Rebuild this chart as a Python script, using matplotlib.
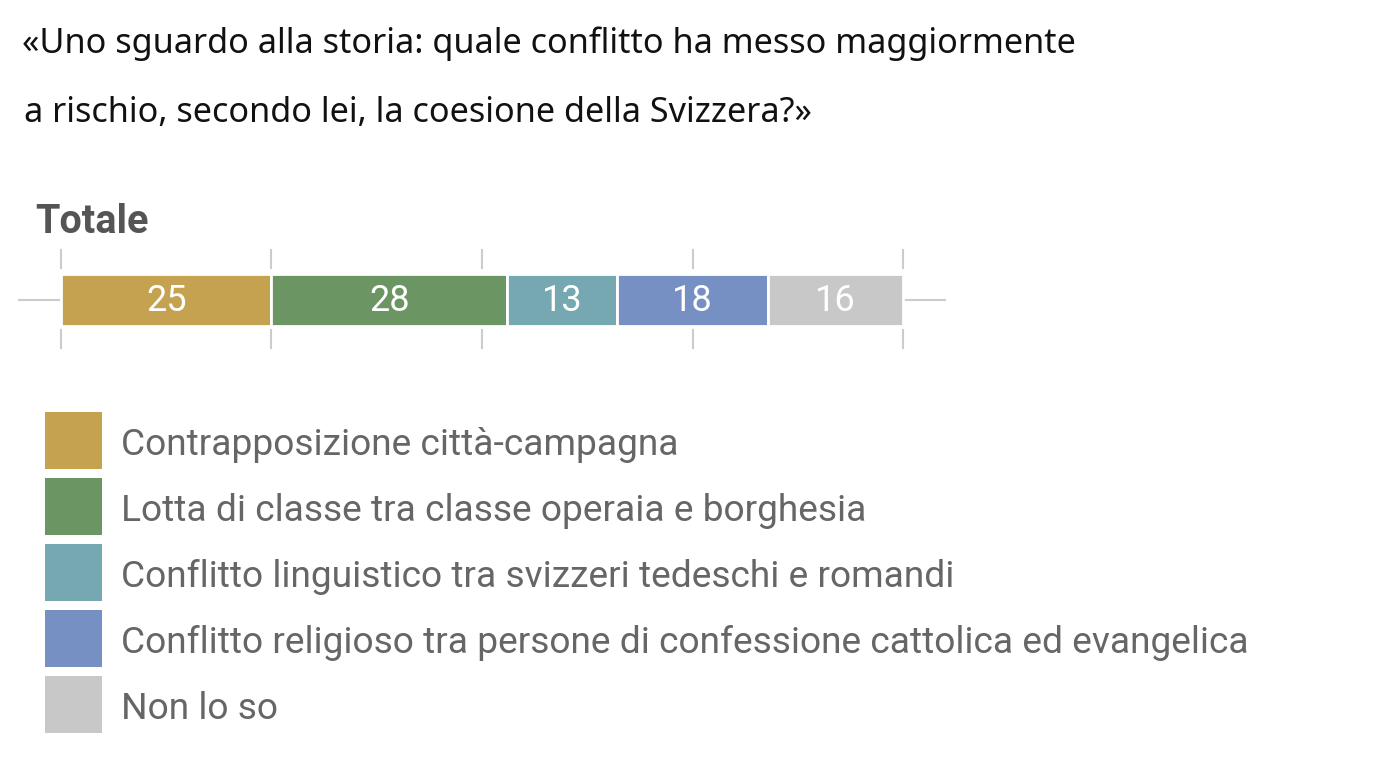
import matplotlib.pyplot as plt
from matplotlib.patches import Rectangle

# Data
categories = [
    "Contrapposizione città-campagna",
    "Lotta di classe tra classe operaia e borghesia",
    "Conflitto linguistico tra svizzeri tedeschi e romandi",
    "Conflitto religioso tra persone di confessione cattolica ed evangelica",
    "Non lo so",
]
values = [25, 28, 13, 18, 16]
colors = ["#c4a24f", "#6b9562", "#76a8b2", "#7790c4", "#c8c8c8"]
row_label = "Totale"
ticks = [0, 25, 50, 75, 100]
title_lines = [
    "«Uno sguardo alla storia: quale conflitto ha messo maggiormente",
    "a rischio, secondo lei, la coesione della Svizzera?»",
]

W, H = 1390, 781
fig = plt.figure(figsize=(W / 100, H / 100), dpi=100)


def fx(px):
    return px / W


def fy(py):
    return 1 - py / H


# Title
fig.text(fx(22), fy(53), title_lines[0], fontsize=24.6, family="Noto Sans",
         color="#111111", va="baseline")
fig.text(fx(24), fy(122), title_lines[1], fontsize=24.6, family="Noto Sans",
         color="#111111", va="baseline")

# Row label
fig.text(fx(35), fy(233), row_label, fontsize=28.5, family="Roboto",
         fontweight="bold", color="#555555", va="baseline")

# Stacked bar
ax = fig.add_axes([fx(18), fy(360), fx(928), 120 / H])
ax.set_xlim(-5.1, 105.1)
ax.set_ylim(-1, 1)
ax.axis("off")

ax.plot([-5.1, 105.1], [0, 0], color="#cccccc", lw=1.5, zorder=0)
for t in ticks:
    ax.plot([t, t], [0.533, 0.833], color="#cccccc", lw=1.5, zorder=0)
    ax.plot([t, t], [-0.5, -0.8], color="#cccccc", lw=1.5, zorder=0)

left = 0
for v, c in zip(values, colors):
    ax.barh(0, v, left=left, height=0.88, color=c, edgecolor="white",
            linewidth=2, zorder=2)
    ax.text(left + v / 2, -0.02, str(v), ha="center", va="center",
            fontsize=26, family="Roboto", color="white", zorder=3)
    left += v

# Legend
for i, (cat, c) in enumerate(zip(categories, colors)):
    top = 412 + 66 * i
    fig.patches.append(Rectangle((fx(45), fy(top + 57)), fx(57), 57 / H,
                                 transform=fig.transFigure, facecolor=c,
                                 edgecolor="none"))
    fig.text(fx(121), fy(455 + 66 * i), cat, fontsize=26.7, family="Roboto",
             color="#666666", va="baseline")

fig.savefig("out.png", dpi=100, facecolor="white")
